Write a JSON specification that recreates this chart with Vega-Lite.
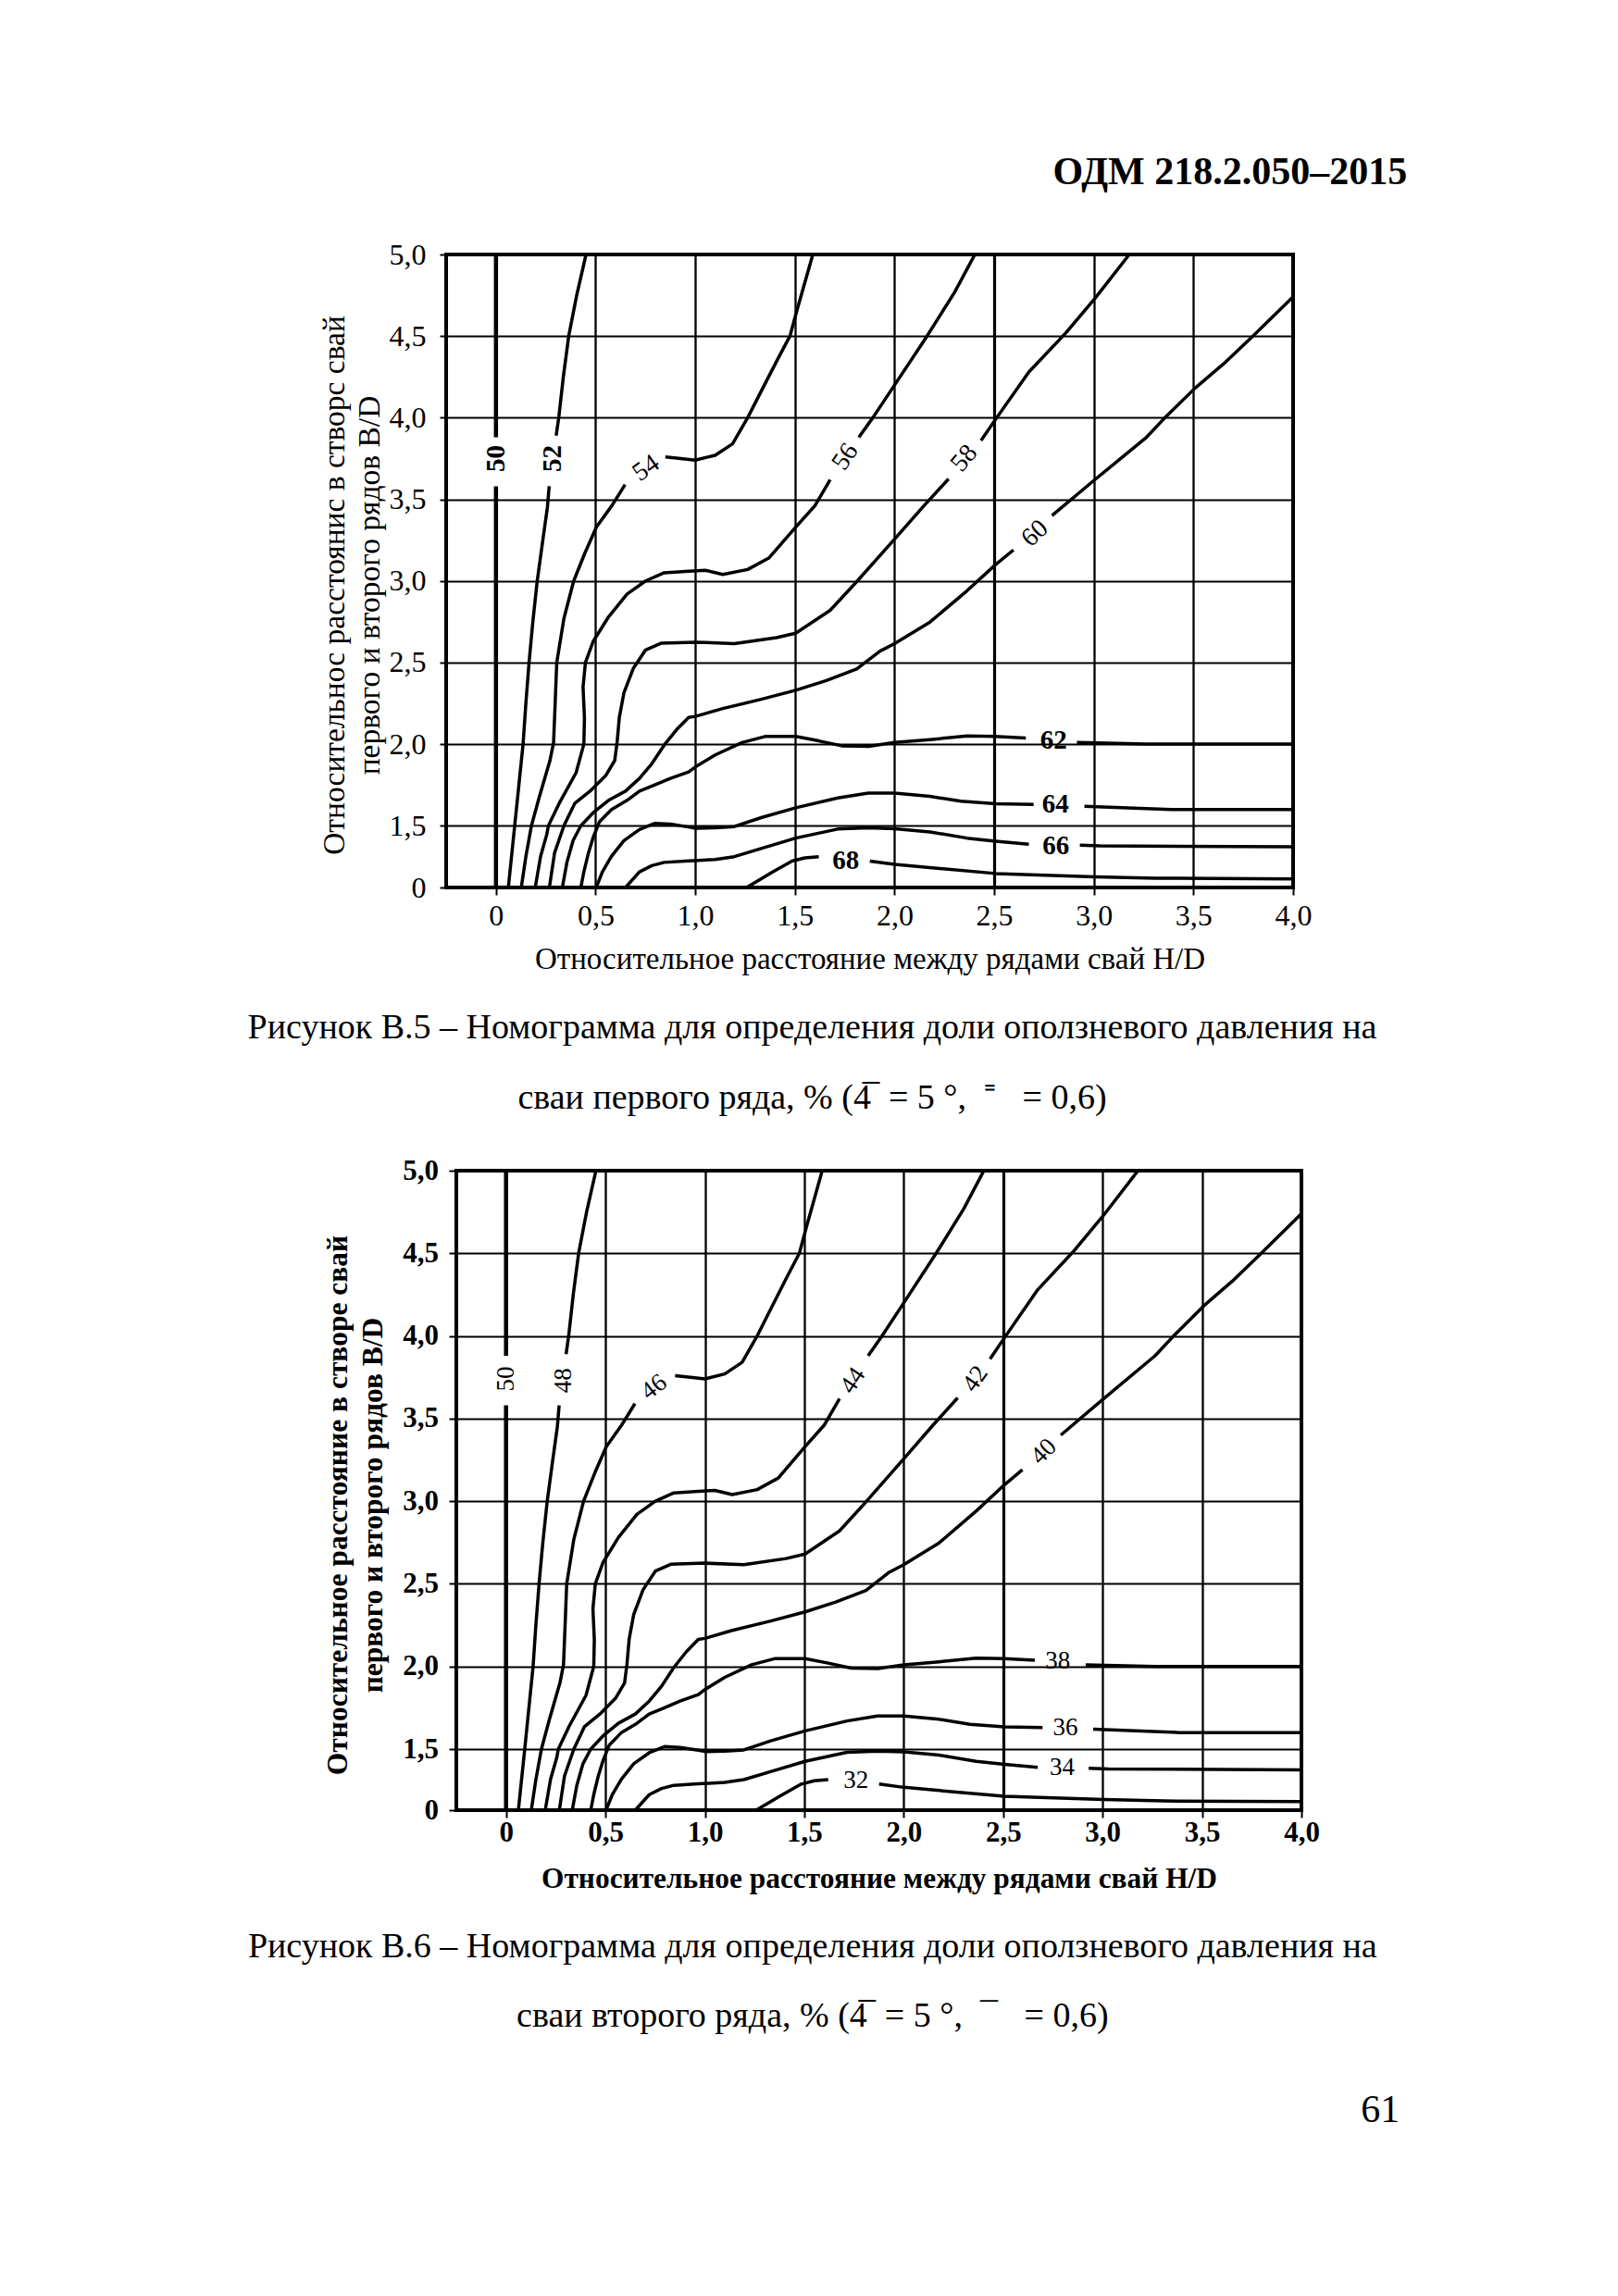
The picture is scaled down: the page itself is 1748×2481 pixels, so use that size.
{
"$schema": "https://vega.github.io/schema/vega-lite/v6.json",
"background": "white",
"padding": {"left": 265, "top": 165, "right": 10, "bottom": 10},
"title": {"text": "ОДМ 218.2.050–2015", "orient": "top", "anchor": "end", "frame": "bounds", "font": "Liberation Serif", "fontSize": 42, "fontWeight": "bold", "color": "black", "baseline": "alphabetic", "offset": 16, "dx": 8},
"config": {"view": {"stroke": null}, "title": {"color": "black", "font": "Liberation Serif"}, "text": {"color": "black"}},
"datasets": {
"curves": [
{"s":"50a","i":0,"x":0,"y":0},{"s":"50a","i":1,"x":0,"y":3.58},
{"s":"50b","i":0,"x":0,"y":3.88},{"s":"50b","i":1,"x":0,"y":5},
{"s":"52a","i":0,"x":0.062,"y":0},{"s":"52a","i":1,"x":0.078,"y":0.75},{"s":"52a","i":2,"x":0.094,"y":1.5},{"s":"52a","i":3,"x":0.115,"y":1.75},{"s":"52a","i":4,"x":0.136,"y":2.0},{"s":"52a","i":5,"x":0.15,"y":2.25},{"s":"52a","i":6,"x":0.166,"y":2.5},{"s":"52a","i":7,"x":0.185,"y":2.75},{"s":"52a","i":8,"x":0.207,"y":3.0},{"s":"52a","i":9,"x":0.235,"y":3.25},{"s":"52a","i":10,"x":0.258,"y":3.45},{"s":"52a","i":11,"x":0.267,"y":3.58},
{"s":"52b","i":0,"x":0.302,"y":3.89},{"s":"52b","i":1,"x":0.315,"y":4.0},{"s":"52b","i":2,"x":0.338,"y":4.25},{"s":"52b","i":3,"x":0.365,"y":4.5},{"s":"52b","i":4,"x":0.405,"y":4.75},{"s":"52b","i":5,"x":0.452,"y":5.0},
{"s":"54a","i":0,"x":0.127,"y":0},{"s":"54a","i":1,"x":0.15,"y":0.75},{"s":"54a","i":2,"x":0.17,"y":1.29},{"s":"54a","i":3,"x":0.178,"y":1.5},{"s":"54a","i":4,"x":0.217,"y":1.675},{"s":"54a","i":5,"x":0.271,"y":1.9},{"s":"54a","i":6,"x":0.289,"y":2.01},{"s":"54a","i":7,"x":0.297,"y":2.25},{"s":"54a","i":8,"x":0.305,"y":2.5},{"s":"54a","i":9,"x":0.341,"y":2.77},{"s":"54a","i":10,"x":0.39,"y":3.0},{"s":"54a","i":11,"x":0.446,"y":3.17},{"s":"54a","i":12,"x":0.504,"y":3.33},{"s":"54a","i":13,"x":0.581,"y":3.46},{"s":"54a","i":14,"x":0.648,"y":3.59},
{"s":"54b","i":0,"x":0.85,"y":3.76},{"s":"54b","i":1,"x":0.927,"y":3.75},{"s":"54b","i":2,"x":1.0,"y":3.74},{"s":"54b","i":3,"x":1.1,"y":3.77},{"s":"54b","i":4,"x":1.187,"y":3.84},{"s":"54b","i":5,"x":1.263,"y":4.0},{"s":"54b","i":6,"x":1.33,"y":4.16},{"s":"54b","i":7,"x":1.41,"y":4.35},{"s":"54b","i":8,"x":1.475,"y":4.5},{"s":"54b","i":9,"x":1.513,"y":4.67},{"s":"54b","i":10,"x":1.59,"y":5.0},
{"s":"56a","i":0,"x":0.197,"y":0},{"s":"56a","i":1,"x":0.224,"y":0.76},{"s":"56a","i":2,"x":0.255,"y":1.29},{"s":"56a","i":3,"x":0.263,"y":1.5},{"s":"56a","i":4,"x":0.317,"y":1.637},{"s":"56a","i":5,"x":0.402,"y":1.825},{"s":"56a","i":6,"x":0.441,"y":2.0},{"s":"56a","i":7,"x":0.444,"y":2.16},{"s":"56a","i":8,"x":0.437,"y":2.35},{"s":"56a","i":9,"x":0.449,"y":2.5},{"s":"56a","i":10,"x":0.488,"y":2.63},{"s":"56a","i":11,"x":0.565,"y":2.78},{"s":"56a","i":12,"x":0.658,"y":2.92},{"s":"56a","i":13,"x":0.751,"y":3.0},{"s":"56a","i":14,"x":0.844,"y":3.05},{"s":"56a","i":15,"x":0.967,"y":3.06},{"s":"56a","i":16,"x":1.05,"y":3.065},{"s":"56a","i":17,"x":1.138,"y":3.04},{"s":"56a","i":18,"x":1.263,"y":3.07},{"s":"56a","i":19,"x":1.369,"y":3.14},{"s":"56a","i":20,"x":1.504,"y":3.33},{"s":"56a","i":21,"x":1.6,"y":3.46},{"s":"56a","i":22,"x":1.677,"y":3.62},
{"s":"56b","i":0,"x":1.821,"y":3.88},{"s":"56b","i":1,"x":1.891,"y":4.0},{"s":"56b","i":2,"x":2.0,"y":4.2},{"s":"56b","i":3,"x":2.163,"y":4.5},{"s":"56b","i":4,"x":2.302,"y":4.77},{"s":"56b","i":5,"x":2.403,"y":5.0},
{"s":"58a","i":0,"x":0.268,"y":0},{"s":"58a","i":1,"x":0.294,"y":0.84},{"s":"58a","i":2,"x":0.341,"y":1.5},{"s":"58a","i":3,"x":0.395,"y":1.637},{"s":"58a","i":4,"x":0.472,"y":1.712},{"s":"58a","i":5,"x":0.55,"y":1.806},{"s":"58a","i":6,"x":0.596,"y":1.9},{"s":"58a","i":7,"x":0.608,"y":2.013},{"s":"58a","i":8,"x":0.619,"y":2.164},{"s":"58a","i":9,"x":0.642,"y":2.314},{"s":"58a","i":10,"x":0.689,"y":2.464},{"s":"58a","i":11,"x":0.751,"y":2.577},{"s":"58a","i":12,"x":0.828,"y":2.618},{"s":"58a","i":13,"x":1.0,"y":2.625},{"s":"58a","i":14,"x":1.196,"y":2.616},{"s":"58a","i":15,"x":1.408,"y":2.653},{"s":"58a","i":16,"x":1.504,"y":2.68},{"s":"58a","i":17,"x":1.677,"y":2.82},{"s":"58a","i":18,"x":1.806,"y":2.99},{"s":"58a","i":19,"x":2.0,"y":3.256},{"s":"58a","i":20,"x":2.147,"y":3.46},{"s":"58a","i":21,"x":2.271,"y":3.625},
{"s":"58b","i":0,"x":2.434,"y":3.86},{"s":"58b","i":1,"x":2.507,"y":3.99},{"s":"58b","i":2,"x":2.674,"y":4.28},{"s":"58b","i":3,"x":2.86,"y":4.52},{"s":"58b","i":4,"x":3.005,"y":4.73},{"s":"58b","i":5,"x":3.178,"y":5.0},
{"s":"60a","i":0,"x":0.333,"y":0},{"s":"60a","i":1,"x":0.356,"y":0.61},{"s":"60a","i":2,"x":0.387,"y":1.14},{"s":"60a","i":3,"x":0.426,"y":1.5},{"s":"60a","i":4,"x":0.488,"y":1.58},{"s":"60a","i":5,"x":0.565,"y":1.656},{"s":"60a","i":6,"x":0.65,"y":1.712},{"s":"60a","i":7,"x":0.72,"y":1.79},{"s":"60a","i":8,"x":0.782,"y":1.88},{"s":"60a","i":9,"x":0.844,"y":1.994},{"s":"60a","i":10,"x":0.906,"y":2.088},{"s":"60a","i":11,"x":0.967,"y":2.164},{"s":"60a","i":12,"x":1.0,"y":2.17},{"s":"60a","i":13,"x":1.138,"y":2.218},{"s":"60a","i":14,"x":1.331,"y":2.275},{"s":"60a","i":15,"x":1.504,"y":2.33},{"s":"60a","i":16,"x":1.658,"y":2.39},{"s":"60a","i":17,"x":1.81,"y":2.46},{"s":"60a","i":18,"x":1.927,"y":2.57},{"s":"60a","i":19,"x":2.0,"y":2.616},{"s":"60a","i":20,"x":2.178,"y":2.748},{"s":"60a","i":21,"x":2.364,"y":2.94},{"s":"60a","i":22,"x":2.507,"y":3.1},{"s":"60a","i":23,"x":2.597,"y":3.19},
{"s":"60b","i":0,"x":2.79,"y":3.4},{"s":"60b","i":1,"x":3.0,"y":3.615},{"s":"60b","i":2,"x":3.264,"y":3.88},{"s":"60b","i":3,"x":3.357,"y":4.0},{"s":"60b","i":4,"x":3.507,"y":4.18},{"s":"60b","i":5,"x":3.651,"y":4.33},{"s":"60b","i":6,"x":3.798,"y":4.5},{"s":"60b","i":7,"x":4.0,"y":4.74},
{"s":"62a","i":0,"x":0.426,"y":0},{"s":"62a","i":1,"x":0.441,"y":0.38},{"s":"62a","i":2,"x":0.464,"y":0.84},{"s":"62a","i":3,"x":0.488,"y":1.22},{"s":"62a","i":4,"x":0.519,"y":1.524},{"s":"62a","i":5,"x":0.58,"y":1.6},{"s":"62a","i":6,"x":0.658,"y":1.656},{"s":"62a","i":7,"x":0.72,"y":1.712},{"s":"62a","i":8,"x":0.797,"y":1.75},{"s":"62a","i":9,"x":0.875,"y":1.79},{"s":"62a","i":10,"x":0.967,"y":1.83},{"s":"62a","i":11,"x":1.0,"y":1.86},{"s":"62a","i":12,"x":1.1,"y":1.934},{"s":"62a","i":13,"x":1.235,"y":2.01},{"s":"62a","i":14,"x":1.35,"y":2.047},{"s":"62a","i":15,"x":1.504,"y":2.047},{"s":"62a","i":16,"x":1.62,"y":2.02},{"s":"62a","i":17,"x":1.735,"y":1.99},{"s":"62a","i":18,"x":1.87,"y":1.987},{"s":"62a","i":19,"x":2.0,"y":2.01},{"s":"62a","i":20,"x":2.178,"y":2.028},{"s":"62a","i":21,"x":2.364,"y":2.05},{"s":"62a","i":22,"x":2.504,"y":2.047},{"s":"62a","i":23,"x":2.659,"y":2.038},
{"s":"62b","i":0,"x":2.915,"y":2.01},{"s":"62b","i":1,"x":3.264,"y":2.0},{"s":"62b","i":2,"x":4.0,"y":2.0},
{"s":"64a","i":0,"x":0.503,"y":0},{"s":"64a","i":1,"x":0.534,"y":0.38},{"s":"64a","i":2,"x":0.58,"y":0.76},{"s":"64a","i":3,"x":0.642,"y":1.14},{"s":"64a","i":4,"x":0.72,"y":1.41},{"s":"64a","i":5,"x":0.797,"y":1.515},{"s":"64a","i":6,"x":0.875,"y":1.51},{"s":"64a","i":7,"x":0.967,"y":1.47},{"s":"64a","i":8,"x":1.0,"y":1.44},{"s":"64a","i":9,"x":1.1,"y":1.45},{"s":"64a","i":10,"x":1.196,"y":1.48},{"s":"64a","i":11,"x":1.331,"y":1.55},{"s":"64a","i":12,"x":1.504,"y":1.61},{"s":"64a","i":13,"x":1.715,"y":1.67},{"s":"64a","i":14,"x":1.868,"y":1.7},{"s":"64a","i":15,"x":2.0,"y":1.7},{"s":"64a","i":16,"x":2.178,"y":1.68},{"s":"64a","i":17,"x":2.333,"y":1.65},{"s":"64a","i":18,"x":2.507,"y":1.635},{"s":"64a","i":19,"x":2.698,"y":1.63},
{"s":"64b","i":0,"x":2.953,"y":1.62},{"s":"64b","i":1,"x":3.388,"y":1.6},{"s":"64b","i":2,"x":4.0,"y":1.6},
{"s":"66a","i":0,"x":0.65,"y":0},{"s":"66a","i":1,"x":0.72,"y":0.38},{"s":"66a","i":2,"x":0.782,"y":0.53},{"s":"66a","i":3,"x":0.844,"y":0.61},{"s":"66a","i":4,"x":0.967,"y":0.645},{"s":"66a","i":5,"x":1.1,"y":0.68},{"s":"66a","i":6,"x":1.196,"y":0.75},{"s":"66a","i":7,"x":1.35,"y":0.975},{"s":"66a","i":8,"x":1.504,"y":1.2},{"s":"66a","i":9,"x":1.715,"y":1.42},{"s":"66a","i":10,"x":1.868,"y":1.45},{"s":"66a","i":11,"x":2.0,"y":1.43},{"s":"66a","i":12,"x":2.178,"y":1.35},{"s":"66a","i":13,"x":2.364,"y":1.2},{"s":"66a","i":14,"x":2.507,"y":1.125},{"s":"66a","i":15,"x":2.674,"y":1.05},
{"s":"66b","i":0,"x":2.93,"y":1.03},{"s":"66b","i":1,"x":3.03,"y":1.01},{"s":"66b","i":2,"x":4.0,"y":0.99},
{"s":"68a","i":0,"x":1.258,"y":0},{"s":"68a","i":1,"x":1.388,"y":0.375},{"s":"68a","i":2,"x":1.485,"y":0.64},{"s":"68a","i":3,"x":1.55,"y":0.72},{"s":"68a","i":4,"x":1.62,"y":0.75},
{"s":"68b","i":0,"x":1.876,"y":0.64},{"s":"68b","i":1,"x":2.0,"y":0.56},{"s":"68b","i":2,"x":2.507,"y":0.34},{"s":"68b","i":3,"x":3.005,"y":0.26},{"s":"68b","i":4,"x":3.31,"y":0.225},{"s":"68b","i":5,"x":4.0,"y":0.21}
],
"lab1": [
{"t":"50","x":0,"y":3.75,"a":-90},{"t":"52","x":0.285,"y":3.75,"a":-90},{"t":"54","x":0.754,"y":3.69,"a":-35},{"t":"56","x":1.754,"y":3.76,"a":-56},{"t":"58","x":2.35,"y":3.75,"a":-50},{"t":"60","x":2.705,"y":3.29,"a":-42},{"t":"62","x":2.798,"y":2.025,"a":0},{"t":"64","x":2.808,"y":1.63,"a":0},{"t":"66","x":2.81,"y":1.01,"a":0},{"t":"68","x":1.755,"y":0.66,"a":0}
],
"lab2": [
{"t":"50","x":0,"y":3.74,"a":-90},{"t":"48","x":0.29,"y":3.73,"a":-90},{"t":"46","x":0.744,"y":3.69,"a":-38},{"t":"44","x":1.744,"y":3.73,"a":-56},{"t":"42","x":2.36,"y":3.74,"a":-55},{"t":"40","x":2.704,"y":3.3,"a":-45},{"t":"38","x":2.774,"y":2.03,"a":0},{"t":"36","x":2.813,"y":1.63,"a":0},{"t":"34","x":2.797,"y":1.05,"a":0},{"t":"32","x":1.76,"y":0.73,"a":0}
],
"sp": [{"k": 1}]
},
"spacing": 306,
"bounds": "flush",
"vconcat": [
{
"width": 915, "height": 684,
"view": {"stroke": "black", "strokeWidth": 4},
"title": {"text": ["Рисунок В.5 – Номограмма для определения доли оползневого давления на", "сваи первого ряда, % (4\u0305\u00a0 = 5 °,\u00a0 \u207c \u00a0 = 0,6)"], "orient": "bottom", "anchor": "middle", "frame": "bounds", "font": "Liberation Serif", "fontSize": 38, "fontWeight": "normal", "lineHeight": 76, "baseline": "top", "offset": 38.5, "dx": -3},
"layer": [
{"data": {"name": "curves"}, "transform": [{"filter": "indexof(datum.s, '50') != 0"}],
 "mark": {"type": "line", "color": "black", "strokeWidth": 3.5, "strokeJoin": "round"},
 "encoding": {
  "x": {"field": "x", "type": "quantitative", "scale": {"domain": [-0.25, 4], "nice": false, "zero": false},
   "axis": {"values": [0,0.5,1,1.5,2,2.5,3,3.5,4], "labelExpr": "datum.value == 0 ? '0' : replace(format(datum.value, '.1f'), '.', ',')", "labelFont": "Liberation Serif", "labelFontSize": 32, "labelColor": "black", "labelPadding": 7, "labelFlush": false, "labelOverlap": false, "tickSize": 8, "tickWidth": 2, "tickColor": "black", "domain": false, "grid": true, "gridColor": "black", "gridWidth": {"condition": {"test": "datum.value == 2.5", "value": 3.2}, "value": 2.3}, "gridOpacity": {"condition": {"test": "datum.value == 0 || datum.value == 4", "value": 0}, "value": 1}, "title": "Относительное расстояние между рядами свай H/D", "titleFont": "Liberation Serif", "titleFontSize": 33, "titleFontWeight": "normal", "titleColor": "black", "titlePadding": 15}},
  "y": {"field": "y", "type": "quantitative", "scale": {"domain": [0, 1.5, 5], "range": [684, 617.3, 0], "nice": false, "zero": false},
   "axis": {"values": [0,1.5,2,2.5,3,3.5,4,4.5,5], "labelExpr": "datum.value == 0 ? '0' : replace(format(datum.value, '.1f'), '.', ',')", "labelFont": "Liberation Serif", "labelFontSize": 32, "labelColor": "black", "labelPadding": 15, "labelFlush": false, "labelOverlap": false, "tickSize": 7, "tickWidth": 2, "tickColor": "black", "domain": false, "grid": true, "gridColor": "black", "gridWidth": 2.2, "gridOpacity": {"condition": {"test": "datum.value == 0 || datum.value == 5", "value": 0}, "value": 1}, "title": ["Относительнос расстоянис в створс свай", "первого и второго рядов B/D"], "titleFont": "Liberation Serif", "titleFontSize": 33.5, "titleFontWeight": "normal", "titleColor": "black", "titleLineHeight": 38, "titlePadding": 4, "titleY": 357}},
  "detail": {"field": "s"},
  "order": {"field": "i", "type": "quantitative"}
 }},
{"data": {"name": "curves"}, "transform": [{"filter": "indexof(datum.s, '50') == 0"}],
 "mark": {"type": "line", "color": "black", "strokeWidth": 4.5},
 "encoding": {"x": {"field": "x", "type": "quantitative"}, "y": {"field": "y", "type": "quantitative"}, "detail": {"field": "s"}, "order": {"field": "i", "type": "quantitative"}}},
{"data": {"name": "lab1"}, "transform": [{"filter": "indexof(['50','52','62','64','66','68'], datum.t) >= 0"}],
 "mark": {"type": "text", "font": "Liberation Serif", "fontSize": 29, "fontWeight": "bold", "align": "center", "baseline": "middle", "color": "black"},
 "encoding": {"x": {"field": "x", "type": "quantitative"}, "y": {"field": "y", "type": "quantitative"}, "text": {"field": "t"}, "angle": {"field": "a", "type": "quantitative", "scale": null}}},
{"data": {"name": "lab1"}, "transform": [{"filter": "indexof(['50','52','62','64','66','68'], datum.t) < 0"}],
 "mark": {"type": "text", "font": "Liberation Serif", "fontSize": 28, "fontWeight": "normal", "align": "center", "baseline": "middle", "color": "black"},
 "encoding": {"x": {"field": "x", "type": "quantitative"}, "y": {"field": "y", "type": "quantitative"}, "text": {"field": "t"}, "angle": {"field": "a", "type": "quantitative", "scale": null}}}
]
},
{
"hconcat": [
{"width": 1, "height": 1, "data": {"name": "sp"}, "mark": {"type": "point", "opacity": 0}, "view": {"stroke": null}},
{
"width": 913, "height": 691,
"view": {"stroke": "black", "strokeWidth": 4},
"title": {"text": ["Рисунок В.6 – Номограмма для определения доли оползневого давления на", "сваи второго ряда, % (4\u0305\u00a0 = 5 °,\u00a0 \u00af \u00a0 = 0,6)"], "orient": "bottom", "anchor": "middle", "frame": "bounds", "font": "Liberation Serif", "fontSize": 38, "fontWeight": "normal", "lineHeight": 75, "baseline": "top", "offset": 39.5, "dx": -9.5},
"layer": [
{"data": {"name": "curves"}, "transform": [{"filter": "indexof(datum.s, '50') != 0"}],
 "mark": {"type": "line", "color": "black", "strokeWidth": 3.5, "strokeJoin": "round"},
 "encoding": {
  "x": {"field": "x", "type": "quantitative", "scale": {"domain": [-0.25, 4], "nice": false, "zero": false},
   "axis": {"values": [0,0.5,1,1.5,2,2.5,3,3.5,4], "labelExpr": "datum.value == 0 ? '0' : replace(format(datum.value, '.1f'), '.', ',')", "labelFont": "Liberation Serif", "labelFontSize": 31, "labelFontWeight": "bold", "labelColor": "black", "labelPadding": 1, "labelFlush": false, "labelOverlap": false, "tickSize": 8, "tickWidth": 2, "tickColor": "black", "domain": false, "grid": true, "gridColor": "black", "gridWidth": {"condition": {"test": "datum.value == 2.5", "value": 3.2}, "value": 2.3}, "gridOpacity": {"condition": {"test": "datum.value == 0 || datum.value == 4", "value": 0}, "value": 1}, "title": "Относительное расстояние между рядами свай H/D", "titleFont": "Liberation Serif", "titleFontSize": 31.4, "titleFontWeight": "bold", "titleColor": "black", "titlePadding": 19}},
  "y": {"field": "y", "type": "quantitative", "scale": {"domain": [0, 1.5, 5], "range": [691, 625, 0], "nice": false, "zero": false},
   "axis": {"values": [0,1.5,2,2.5,3,3.5,4,4.5,5], "labelExpr": "datum.value == 0 ? '0' : replace(format(datum.value, '.1f'), '.', ',')", "labelFont": "Liberation Serif", "labelFontSize": 31, "labelFontWeight": "bold", "labelColor": "black", "labelPadding": 11.5, "labelFlush": false, "labelOverlap": false, "tickSize": 8, "tickWidth": 2, "tickColor": "black", "domain": false, "grid": true, "gridColor": "black", "gridWidth": 2.2, "gridOpacity": {"condition": {"test": "datum.value == 0 || datum.value == 5", "value": 0}, "value": 1}, "title": ["Относительное расстояние в створе свай", "первого и второго рядов B/D"], "titleFont": "Liberation Serif", "titleFontSize": 31.5, "titleFontWeight": "bold", "titleColor": "black", "titleLineHeight": 38, "titlePadding": 15.5, "titleY": 361}},
  "detail": {"field": "s"},
  "order": {"field": "i", "type": "quantitative"}
 }},
{"data": {"name": "curves"}, "transform": [{"filter": "indexof(datum.s, '50') == 0"}],
 "mark": {"type": "line", "color": "black", "strokeWidth": 4.5},
 "encoding": {"x": {"field": "x", "type": "quantitative"}, "y": {"field": "y", "type": "quantitative"}, "detail": {"field": "s"}, "order": {"field": "i", "type": "quantitative"}}},
{"data": {"name": "lab2"},
 "mark": {"type": "text", "font": "Liberation Serif", "fontSize": 27, "fontWeight": "normal", "align": "center", "baseline": "middle", "color": "black"},
 "encoding": {"x": {"field": "x", "type": "quantitative"}, "y": {"field": "y", "type": "quantitative"}, "text": {"field": "t"}, "angle": {"field": "a", "type": "quantitative", "scale": null}}}
]
}
],
"spacing": 10,
"bounds": "flush",
"title": {"text": "61", "orient": "bottom", "anchor": "end", "frame": "bounds", "font": "Liberation Serif", "fontSize": 42, "fontWeight": "normal", "baseline": "alphabetic", "offset": 93.5, "dx": 22.5}
}
]
}
